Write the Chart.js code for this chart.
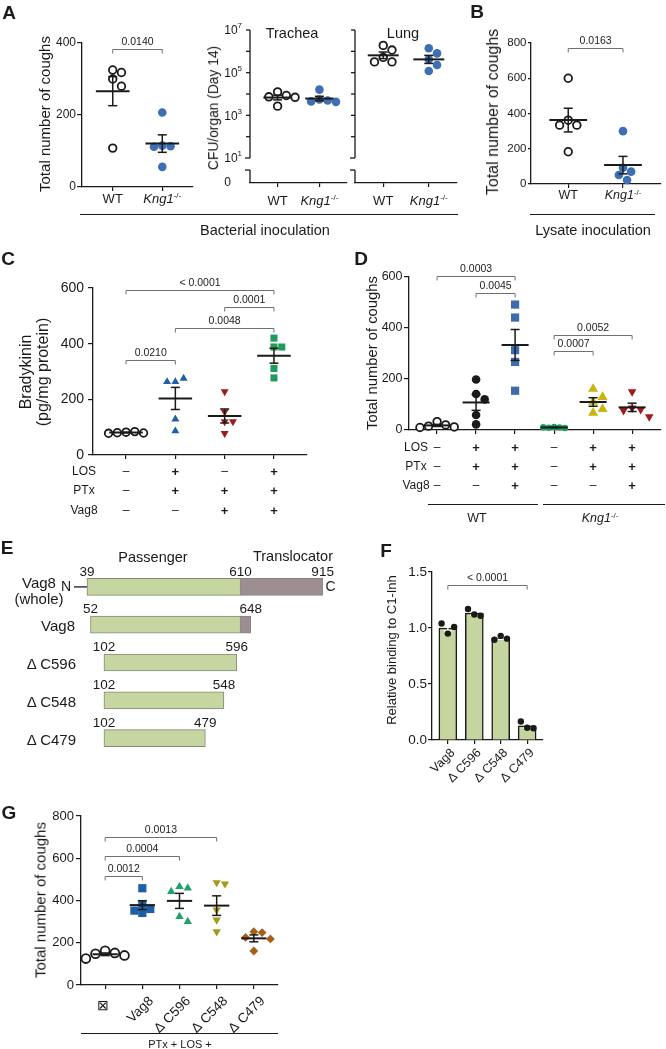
<!DOCTYPE html>
<html>
<head>
<meta charset="utf-8">
<script src="https://cdn.jsdelivr.net/npm/chart.js@4.4.1/dist/chart.umd.min.js"></script>
<style>
html, body { margin: 0; padding: 0; background: #fff; }
#fig { position: relative; width: 666px; height: 1049px; overflow: hidden; font-family: "Liberation Sans", Arial, sans-serif; color: #1a1a1a; }
#fig canvas { position: absolute; left: 0; top: 0; }
.t { position: absolute; white-space: nowrap; line-height: 1; transform: translate(-50%, -50%); }
.hl { position: absolute; height: 0; border-top: 1.3px solid #1a1a1a; }
sup { font-size: 0.62em; vertical-align: 0.55em; line-height: 0; }
</style>
</head>
<body>
<div id="fig"></div>
<script>
// ---- A: coughs after bacterial inoculation ----
const coughA_WT = [325, 318, 300, 280, 108];
const coughA_KO = [207, 115, 113, 112, 56];
// ---- A: CFU/organ on day 14 ----
const cfuTracheaWT = [12600, 8500, 7400, 7000, 2700];
const cfuTracheaKO = [16000, 5500, 5000, 4500, 4300];
const cfuLungWT = [1900000, 1150000, 520000, 320000, 320000];
const cfuLungKO = [1400000, 800000, 420000, 230000, 120000];
// ---- B: coughs after lysate inoculation ----
const coughB_WT = [600, 362, 334, 334, 183];
const coughB_KO = [300, 92, 70, 51, 23];
// ---- C: bradykinin ----
const bkCtrl = [82, 84, 80, 79, 78];
const bkLosPtx = [263, 275, 263, 129, 86];
const bkPtxVag8 = [228, 155, 120, 120, 78];
const bkAll = [388, 420, 388, 311, 277];
const losC = ['–', '+', '–', '+'];
const ptxC = ['–', '+', '+', '+'];
const vag8C = ['–', '–', '+', '+'];
const pairsC = [[0, 3], [2, 3], [1, 3], [0, 1]];
const pvalsC = ['< 0.0001', '0.0001', '0.0048', '0.0210'];
const levelsC = [593, 532, 456, 341];
// ---- D: coughs WT / Kng1-/- ----
const dWtCtrl = [33, 20, 15, 12, 10];
const dWtLosPtx = [198, 141, 120, 59, 22];
const dWtAll = [492, 441, 313, 267, 154];
const dKoCtrl = [12, 10, 9, 8, 11];
const dKoLosPtx = [161, 129, 110, 82, 67];
const dKoAll = [150, 86, 80, 76, 52];
const losD = ['–', '+', '+', '–', '+', '+'];
const ptxD = ['–', '+', '+', '–', '+', '+'];
const vag8D = ['–', '–', '+', '–', '–', '+'];
const pairsD = [[0, 2], [1, 2], [3, 5], [3, 4]];
const pvalsD = ['0.0003', '0.0045', '0.0052', '0.0007'];
const levelsD = [604, 537, 373, 310];
// ---- E: constructs (aa positions) ----
const constructs = ['Vag8 (whole)', 'Vag8', 'Δ C596', 'Δ C548', 'Δ C479'];
const passStart = [39, 52, 102, 102, 102];
const passEnd = [610, 610, 596, 548, 479];
const transEnd = [915, 648, null, null, null];
// ---- F: relative binding to C1-Inh ----
const fLabels = ['Vag8', 'Δ C596', 'Δ C548', 'Δ C479'];
const relBinding = [[1.04, 0.95, 1.01], [1.17, 1.12, 1.11], [0.895, 0.93, 0.905], [0.165, 0.11, 0.105]];
// ---- G: coughs with Vag8 truncations ----
const gLabels = ['⊠', 'Vag8', 'Δ C596', 'Δ C548', 'Δ C479'];
const gCtrl = [162, 152, 148, 140, 125];
const gVag8 = [458, 380, 360, 352, 341];
const gC596 = [466, 459, 442, 324, 300];
const gC548 = [485, 479, 355, 308, 252];
const gC479 = [252, 248, 225, 218, 161];
const pairsG = [[0, 3], [0, 2], [0, 1]];
const pvalsG = ['0.0013', '0.0004', '0.0012'];
const levelsG = [701, 611, 516];

const W = 666, H = 1049, YW = 40, XH = 6;
const INK = '#1a1a1a';
const FONT = '"Liberation Sans", Arial, sans-serif';
const KO = '<i>Kng1</i><sup>-/-</sup>';
const fig = document.getElementById('fig');

const mean = a => a.reduce((s, v) => s + v, 0) / a.length;
const sem = a => { const m = mean(a); return Math.sqrt(a.reduce((s, v) => s + (v - m) ** 2, 0) / (a.length - 1) / a.length); };
const line = (ctx, x1, y1, x2, y2) => { ctx.beginPath(); ctx.moveTo(x1, y1); ctx.lineTo(x2, y2); ctx.stroke(); };

function canvas() {
  const c = document.createElement('canvas');
  c.width = W; c.height = H;
  fig.appendChild(c);
  return c;
}
function txt(html, x, y, size, extra) {
  const d = document.createElement('div');
  d.className = 't';
  d.style.cssText = `left:${x}px;top:${y}px;font-size:${size}px;` + (extra || '');
  d.innerHTML = html;
  fig.appendChild(d);
  return d;
}
const vtxt = (html, x, y, size, extra) => txt(html, x, y, size, 'transform:translate(-50%,-50%) rotate(-90deg);' + (extra || ''));
const rtxt = (html, x, y, size) => txt(html, x, y, size, 'transform:translate(-100%,-50%);');
function hline(x1, x2, y) {
  const d = document.createElement('div');
  d.className = 'hl';
  d.style.cssText = `left:${x1}px;top:${y}px;width:${x2 - x1}px;`;
  fig.appendChild(d);
}

// nudge layout padding until the plot area sits where it should
function fitArea(chart, pad, box) {
  for (let k = 0; k < 4; k++) {
    const a = chart.chartArea;
    const dl = box.l - a.left, dt = box.t - a.top, dr = a.right - box.r, db = a.bottom - box.b;
    if (Math.abs(dl) + Math.abs(dt) + Math.abs(dr) + Math.abs(db) < 0.3) break;
    pad.left += dl; pad.top += dt; pad.right += dr; pad.bottom += db;
    chart.update();
  }
}

// simple beeswarm: spread points that would overlap
function swarm(vals, toPx, d) {
  const pts = [];
  return vals.map(v => {
    const y = toPx(v);
    let dx = 0;
    for (let k = 0; k < 15; k++) {
      const c = k === 0 ? 0 : (k % 2 ? 1 : -1) * Math.ceil(k / 2) * d / 2;
      if (pts.every(p => Math.hypot(p[0] - c, p[1] - y) >= d * 0.999)) { dx = c; break; }
    }
    pts.push([dx, y]);
    return dx;
  });
}

function drawLogAxis(chart, o) {
  const ctx = chart.ctx, ys = chart.scales.y, x0 = chart.chartArea.left, bot = chart.chartArea.bottom;
  const y10 = ys.getPixelForValue(10);
  ctx.save();
  ctx.strokeStyle = INK; ctx.lineWidth = 1.3;
  line(ctx, x0, ys.getPixelForValue(o.max), x0, y10);
  line(ctx, x0, y10 + 12, x0, bot);
  line(ctx, x0 - 5, y10 + 12, x0, y10 + 12);
  [10, 1e2, 1e3, 1e4, 1e5, 1e6, 1e7].forEach(v => {
    const y = ys.getPixelForValue(v);
    line(ctx, v === 10 ? x0 - 5 : x0 - 4, y, x0, y);
  });
  if (o.logLabels) {
    ctx.fillStyle = INK; ctx.textBaseline = 'middle'; ctx.textAlign = 'left';
    ctx.font = `12px ${FONT}`;
    const bw = ctx.measureText('10').width;
    ctx.font = `8px ${FONT}`;
    const ew = ctx.measureText('7').width;
    const left = x0 - 8 - bw - ew;
    [1, 3, 5, 7].forEach(e => {
      const y = ys.getPixelForValue(10 ** e);
      ctx.font = `12px ${FONT}`; ctx.fillText('10', left, y + 1);
      ctx.font = `8px ${FONT}`; ctx.fillText(String(e), left + bw, y - 4);
    });
    ctx.font = `12px ${FONT}`; ctx.fillText('0', left, bot);
  }
  ctx.restore();
}

function decor(o, spacing) {
  return {
    id: 'decor',
    beforeDatasetsDraw(chart) { if (o.log) drawLogAxis(chart, o); },
    afterDatasetsDraw(chart) {
      const ctx = chart.ctx, xs = chart.scales.x, ys = chart.scales.y, area = chart.chartArea;
      ctx.save();
      ctx.strokeStyle = INK; ctx.fillStyle = INK; ctx.lineCap = 'butt';
      if (o.stats !== false) o.groups.forEach((vals, i) => {
        const a = o.log ? vals.map(Math.log10) : vals;
        const m = mean(a), s = sem(a);
        const f = o.log ? v => 10 ** v : v => v;
        const x = xs.getPixelForValue(i);
        const ym = ys.getPixelForValue(f(m)), y0 = ys.getPixelForValue(f(m - s)), y1 = ys.getPixelForValue(f(m + s));
        const hw = 0.34 * spacing, cw = 4.5;
        ctx.lineWidth = 2;
        line(ctx, x - hw, ym, x + hw, ym);
        ctx.lineWidth = 1.5;
        line(ctx, x, y0, x, y1);
        line(ctx, x - cw, y0, x + cw, y0);
        line(ctx, x - cw, y1, x + cw, y1);
      });
      (o.pairs || []).forEach(([a, b], k) => {
        const y = Math.round(ys.getPixelForValue(o.levels[k])) + 0.5;
        const x1 = xs.getPixelForValue(a), x2 = xs.getPixelForValue(b);
        ctx.strokeStyle = '#707070'; ctx.lineWidth = 1;
        ctx.beginPath(); ctx.moveTo(x1, y + 4); ctx.lineTo(x1, y); ctx.lineTo(x2, y); ctx.lineTo(x2, y + 4); ctx.stroke();
        ctx.font = `10.5px ${FONT}`; ctx.textAlign = 'center'; ctx.textBaseline = 'bottom';
        ctx.fillStyle = '#222';
        ctx.fillText(o.pvals[k], (x1 + x2) / 2, y - 2);
      });
      if (o.rows) {
        const r = o.rows;
        ctx.textBaseline = 'middle'; ctx.fillStyle = INK;
        r.names.forEach((nm, j) => {
          ctx.font = `12px ${FONT}`; ctx.textAlign = 'center';
          ctx.fillText(nm, r.labelX, r.y[j]);
          r.marks[j].forEach((s, i) => {
            ctx.font = s === '+' ? `bold 13px ${FONT}` : `12px ${FONT}`;
            ctx.fillText(s, xs.getPixelForValue(i), r.y[j]);
          });
        });
      }
      if (o.rot) {
        const r = o.rot;
        ctx.font = `${r.size}px ${FONT}`; ctx.fillStyle = INK; ctx.textBaseline = 'middle';
        r.labels.forEach((lab, i) => {
          const x = xs.getPixelForValue(i), y = area.bottom;
          ctx.save();
          if (r.upright && r.upright.includes(i)) {
            ctx.textAlign = 'center'; ctx.fillText(lab, x - 2, y + r.uy);
          } else {
            ctx.translate(x + r.dx, y + r.dy); ctx.rotate(-Math.PI / 4);
            ctx.textAlign = 'right'; ctx.fillText(lab, 0, 0);
          }
          ctx.restore();
        });
      }
      ctx.restore();
    }
  };
}

function dotPlot(o) {
  const n = o.groups.length;
  const spacing = (o.r - o.l) / (n - 1 + 2 * o.pad);
  const lmin = o.log ? Math.log10(o.min) : o.min, lmax = o.log ? Math.log10(o.max) : o.max;
  const pxPer = (o.b - o.t) / (lmax - lmin);
  const toPx = v => (o.log ? Math.log10(v) : v) * pxPer;
  const datasets = o.dots === false ? [] : o.groups.map((vals, i) => {
    const st = o.styles[i];
    const off = swarm(vals, toPx, st.w * 0.92);
    return {
      data: vals.map((v, k) => ({ x: i + off[k] / spacing, y: v })),
      pointStyle: st.shape, rotation: st.rot || 0, pointRadius: st.r,
      backgroundColor: st.fill, borderColor: st.line || st.fill, borderWidth: st.bw || 0, clip: false
    };
  });
  const pad = { left: o.l - YW, top: o.t, right: W - o.r, bottom: H - o.b - XH };
  const yScale = o.log ? {
    type: 'logarithmic', min: o.min, max: o.max,
    afterFit: s => { s.width = YW; },
    ticks: { display: false }, grid: { display: false }, border: { display: false }
  } : {
    type: 'linear', min: o.min, max: o.max,
    afterBuildTicks: s => { s.ticks = o.ticks.map(v => ({ value: v })); },
    afterFit: s => { s.width = YW; },
    ticks: { font: { size: o.tickSize, family: FONT }, color: INK, padding: o.tickPad ?? 1.5, callback: o.tickFmt || (v => String(v)) },
    grid: { drawOnChartArea: false, tickLength: o.tickLen || 5, color: INK, lineWidth: 1.2 },
    border: { color: INK, width: 1.3 }
  };
  const chart = new Chart(canvas(), {
    type: o.type || 'scatter',
    data: { datasets: (o.extra || []).concat(datasets) },
    options: {
      responsive: false, animation: false, events: [],
      layout: { padding: pad },
      plugins: { legend: { display: false }, tooltip: { enabled: false } },
      scales: {
        x: {
          type: 'linear', min: -o.pad, max: n - 1 + o.pad, offset: false,
          afterBuildTicks: s => { s.ticks = o.groups.map((g, i) => ({ value: i })); },
          afterFit: s => { s.height = XH; },
          ticks: { display: false },
          grid: { offset: false, drawOnChartArea: false, tickLength: 4, color: INK, lineWidth: 1.2 },
          border: { color: INK, width: 1.3 }
        },
        y: yScale
      }
    },
    plugins: [decor(o, spacing)].concat(o.plugins || [])
  });
  fitArea(chart, pad, o);
  return chart;
}
function groupLabels(chart, labels, y, size) {
  labels.forEach((lab, i) => txt(lab, chart.scales.x.getPixelForValue(i), y, size));
}

const openCircle = { shape: 'circle', r: 3.8, fill: '#fff', line: INK, bw: 1.8, w: 9.5 };
const blueDot = { shape: 'circle', r: 4.3, fill: '#3e6fb2', w: 9 };

// ---------- A ----------
const chartA = dotPlot({
  l: 82, t: 43, r: 193, b: 187, pad: 0.62, min: 0, max: 400, ticks: [0, 200, 400], tickSize: 12, tickPad: 1,
  groups: [coughA_WT, coughA_KO], styles: [openCircle, blueDot],
  pairs: [[0, 1]], pvals: ['0.0140'], levels: [383]
});
groupLabels(chartA, ['WT', KO], 198, 13);

const chartTr = dotPlot({
  l: 250, t: 30, r: 347, b: 183, pad: 0.66, min: 0.676, max: 1e7, log: true, logLabels: true,
  groups: [cfuTracheaWT, cfuTracheaKO], styles: [openCircle, blueDot]
});
groupLabels(chartTr, ['WT', KO], 200, 13);
const chartLu = dotPlot({
  l: 355, t: 30, r: 457, b: 183, pad: 0.62, min: 0.676, max: 1e7, log: true,
  groups: [cfuLungWT, cfuLungKO], styles: [openCircle, blueDot]
});
groupLabels(chartLu, ['WT', KO], 200, 13);

// ---------- B ----------
const chartB = dotPlot({
  l: 531, t: 43, r: 662, b: 184, pad: 0.68, min: 0, max: 800, ticks: [0, 200, 400, 600, 800], tickSize: 11.5, tickPad: 1.5, tickLen: 3,
  groups: [coughB_WT, coughB_KO], styles: [openCircle, blueDot],
  pairs: [[0, 1]], pvals: ['0.0163'], levels: [774]
});
groupLabels(chartB, ['WT', KO], 195, 12.5);

// ---------- C ----------
dotPlot({
  l: 93, t: 288, r: 307, b: 455, pad: 0.67, min: 0, max: 600, ticks: [0, 200, 400, 600], tickSize: 14, tickPad: 4,
  groups: [bkCtrl, bkLosPtx, bkPtxVag8, bkAll],
  styles: [openCircle,
    { shape: 'triangle', r: 4.6, fill: '#1f5fa7', w: 9 },
    { shape: 'triangle', rot: 180, r: 4.6, fill: '#9c1c1c', w: 9 },
    { shape: 'rect', r: 5, fill: '#1f9c5c', w: 8.5 }],
  pairs: pairsC, pvals: pvalsC, levels: levelsC,
  rows: { names: ['LOS', 'PTx', 'Vag8'], marks: [losC, ptxC, vag8C], y: [472, 491, 511], labelX: 84 }
});

// ---------- D ----------
dotPlot({
  l: 409, t: 277, r: 665, b: 430, pad: 0.72, min: 0, max: 600, ticks: [0, 200, 400, 600], tickSize: 12.5, tickPad: 1.5,
  groups: [dWtCtrl, dWtLosPtx, dWtAll, dKoCtrl, dKoLosPtx, dKoAll],
  styles: [openCircle,
    { shape: 'circle', r: 4.3, fill: INK, w: 9.5 },
    { shape: 'rect', r: 5.8, fill: '#3d6bab', w: 8.4 },
    { shape: 'circle', r: 3.2, fill: '#21a05f', w: 6 },
    { shape: 'triangle', r: 5.8, fill: '#c9b50d', w: 10.5 },
    { shape: 'triangle', rot: 180, r: 5, fill: '#a11b1b', w: 9.5 }],
  pairs: pairsD, pvals: pvalsD, levels: levelsD,
  rows: { names: ['LOS', 'PTx', 'Vag8'], marks: [losD, ptxD, vag8D], y: [448, 467, 486], labelX: 416 }
});

// ---------- E ----------
const padE = { left: 76.5, top: 568, right: W - 345.5, bottom: H - 757 };
const ePlugin = {
  id: 'eLabels',
  afterDatasetsDraw(chart) {
    const ctx = chart.ctx, xs = chart.scales.x, ys = chart.scales.y;
    ctx.save();
    ctx.font = `13.5px ${FONT}`; ctx.fillStyle = INK; ctx.strokeStyle = INK;
    ctx.textAlign = 'center'; ctx.textBaseline = 'middle';
    constructs.forEach((c, i) => {
      const y = ys.getPixelForValue(i);
      const end = transEnd[i] || passEnd[i];
      ctx.fillText(String(passStart[i]), xs.getPixelForValue(passStart[i]), y - 15);
      if (i === 0) ctx.fillText(String(passEnd[i]), xs.getPixelForValue(passEnd[i]), y - 15);
      ctx.fillText(String(end), xs.getPixelForValue(end), y - 15);
    });
    const y0 = ys.getPixelForValue(0), xs0 = xs.getPixelForValue(passStart[0]);
    ctx.font = `14px ${FONT}`;
    ctx.fillText('N', xs0 - 21, y0);
    ctx.lineWidth = 1.3;
    line(ctx, xs0 - 13, y0, xs0, y0);
    ctx.fillText('C', xs.getPixelForValue(transEnd[0]) + 8, y0);
    ctx.restore();
  }
};
new Chart(canvas(), {
  type: 'bar',
  data: {
    labels: constructs,
    datasets: [
      { data: constructs.map((c, i) => [passStart[i], passEnd[i]]), backgroundColor: '#c6d6a1', borderColor: '#86877a', borderWidth: 1, borderSkipped: false, barThickness: 17, grouped: false },
      { data: constructs.map((c, i) => transEnd[i] ? [passEnd[i], transEnd[i]] : null), backgroundColor: '#9d8f91', borderColor: '#86807f', borderWidth: 1, borderSkipped: false, barThickness: 17, grouped: false }
    ]
  },
  options: {
    indexAxis: 'y', responsive: false, animation: false, events: [],
    layout: { padding: padE },
    plugins: { legend: { display: false }, tooltip: { enabled: false } },
    scales: { x: { display: false, min: 0, max: 1000 }, y: { display: false } }
  },
  plugins: [ePlugin]
});

// ---------- F ----------
const fSpacing = (543 - 432) / (3 + 1.2);
// replicates sit side by side across each bar
const fDots = relBinding.flatMap((reps, i) => reps.map((v, k) => ({ x: i + (k - 1) * 6.3 / fSpacing, y: v })));
const fErr = {
  id: 'fErr',
  beforeDatasetDraw(chart, args) {
    if (args.index !== 1) return;
    const ctx = chart.ctx, xs = chart.scales.x, ys = chart.scales.y;
    ctx.save();
    ctx.strokeStyle = '#fff'; ctx.lineWidth = 1.5;
    relBinding.forEach((reps, i) => {
      const m = mean(reps), s = sem(reps), x = xs.getPixelForValue(i);
      const y0 = ys.getPixelForValue(m - s), y1 = ys.getPixelForValue(m + s);
      line(ctx, x, y0, x, y1);
      line(ctx, x - 4, y1, x + 4, y1);
      line(ctx, x - 4, y0, x + 4, y0);
    });
    ctx.restore();
  }
};
dotPlot({
  type: 'bar',
  l: 432, t: 572, r: 543, b: 740, pad: 0.6, min: 0, max: 1.5, ticks: [0, 0.5, 1, 1.5], tickSize: 13.5, tickPad: 1, tickLen: 4,
  tickFmt: v => v.toFixed(1),
  groups: relBinding, dots: false, stats: false,
  extra: [
    { type: 'bar', order: 2, data: relBinding.map((r, i) => ({ x: i, y: mean(r) })), backgroundColor: '#c5d5a0', borderColor: INK, borderWidth: 1.5, barThickness: 18 },
    { type: 'scatter', order: 1, data: fDots, pointRadius: 3.2, backgroundColor: INK, borderWidth: 0, clip: false }
  ],
  pairs: [[0, 3]], pvals: ['< 0.0001'], levels: [1.384],
  rot: { labels: fLabels, size: 12.5, dx: 5, dy: 11 },
  plugins: [fErr]
});

// ---------- G ----------
dotPlot({
  l: 81, t: 816, r: 278, b: 985, pad: 0.65, min: 0, max: 800, ticks: [0, 200, 400, 600, 800], tickSize: 13, tickPad: 2,
  groups: [gCtrl, gVag8, gC596, gC548, gC479],
  styles: [{ shape: 'circle', r: 4.4, fill: '#fff', line: INK, bw: 1.8, w: 10.5 },
    { shape: 'rect', r: 5.8, fill: '#1d5ea6', w: 8.6 },
    { shape: 'triangle', r: 4.8, fill: '#1fa36a', w: 9 },
    { shape: 'triangle', rot: 180, r: 4.8, fill: '#a29b14', w: 9 },
    { shape: 'rectRot', r: 4.4, fill: '#a65f1a', w: 9 }],
  pairs: pairsG, pvals: pvalsG, levels: levelsG,
  rot: { labels: gLabels, size: 13.5, dx: 9, dy: 14, upright: [0], uy: 21 }
});

// ---------- texts ----------
const letters = [['A', 9, 12], ['B', 477, 11], ['C', 8, 258], ['D', 361, 258], ['E', 7, 547], ['F', 386, 550], ['G', 9, 812]];
letters.forEach(([s, x, y]) => txt(s, x, y, 19, 'font-weight:bold;'));

vtxt('Total number of coughs', 44, 114, 15);
vtxt('CFU/organ (Day 14)', 214, 108, 13.8);
txt('Trachea', 292, 33, 14.5);
txt('Lung', 403, 33, 14.5);
vtxt('Total number of coughs', 493, 112, 16);
hline(80, 458, 214);
txt('Bacterial inoculation', 265, 230, 14.5);
hline(530, 655, 214);
txt('Lysate inoculation', 593, 230, 14.5);

vtxt('<div style="text-align:center;line-height:1.05">Bradykinin<br>(pg/mg protein)</div>', 35, 372, 16);
vtxt('Total number of coughs', 372, 353, 14.8);
hline(428, 538, 504);
txt('WT', 477, 518, 12.5);
hline(543, 665, 504);
txt(KO, 600, 518, 12.5);

txt('Passenger', 153, 557, 14.5);
txt('Translocator', 293, 556, 14.5);
txt('<div style="text-align:center;line-height:1.05">Vag8<br>(whole)</div>', 39, 591, 15);
rtxt('Vag8', 75, 625, 15);
rtxt('Δ C596', 76, 663, 15);
rtxt('Δ C548', 76, 701, 15);
rtxt('Δ C479', 76, 739, 15);

vtxt('Relative binding to C1-Inh', 391, 650, 13);

vtxt('Total number of coughs', 40, 900, 15);
hline(81, 278, 1033);
txt('PTx + LOS +', 180, 1044, 11);
</script>
</body>
</html>
